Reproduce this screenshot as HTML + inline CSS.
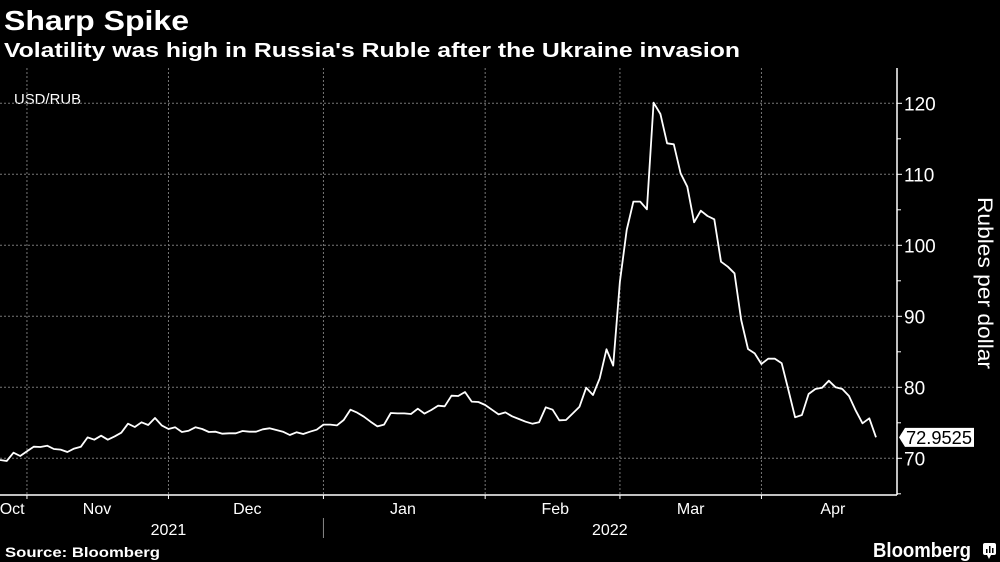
<!DOCTYPE html>
<html><head><meta charset="utf-8"><style>
html,body{margin:0;padding:0;background:#000;}
svg{display:block;font-family:"Liberation Sans","DejaVu Sans",sans-serif;}
</style></head><body>
<svg id="chart" width="1000" height="562" viewBox="0 0 1000 562">
<rect width="1000" height="562" fill="#000"/>
<text x="4" y="30" fill="#fff" font-size="28" font-weight="bold" textLength="185" lengthAdjust="spacingAndGlyphs">Sharp Spike</text>
<text x="4" y="57" fill="#fff" font-size="20" font-weight="bold" textLength="736" lengthAdjust="spacingAndGlyphs">Volatility was high in Russia's Ruble after the Ukraine invasion</text>
<text x="14" y="104" fill="#fff" font-size="15" textLength="67" lengthAdjust="spacingAndGlyphs">USD/RUB</text>
<g id="grid"></g>
<g id="axes"></g>
<g id="series"></g>
<text transform="translate(978,283) rotate(90)" text-anchor="middle" fill="#fff" font-size="21" textLength="172" lengthAdjust="spacingAndGlyphs">Rubles per dollar</text>
<text x="5" y="557" fill="#fff" font-size="14" font-weight="bold" textLength="155" lengthAdjust="spacingAndGlyphs">Source: Bloomberg</text>
<text x="873" y="557" fill="#fff" font-size="20" font-weight="bold" textLength="98" lengthAdjust="spacingAndGlyphs">Bloomberg</text>
<g><rect x="983" y="543" width="13" height="12" rx="2" fill="#fff"/><path d="M987 555 L989 559 L991 555Z" fill="#fff"/><rect x="986" y="549" width="1.5" height="4" fill="#000"/><rect x="989" y="546" width="1.5" height="7" fill="#000"/><rect x="992" y="548" width="1.5" height="5" fill="#000"/></g>
</svg>
<script>
const yTicks=[70,80,90,100,110,120];
const yMinorTicks=[65,75,85,95,105,115];
const monthLabels=["Oct","Nov","Dec","Jan","Feb","Mar","Apr"];
const monthLabelIdx=[1.8,14.4,36.7,59.8,82.4,102.5,123.6];
const monthStartIdx=[4,25,48,72,92,113];
const yearLabels=["2021","2022"];
const yearLabelIdx=[25,90.5];
const yearDividerIdx=48;
const values=[69.76,69.62,70.79,70.32,70.98,71.64,71.59,71.78,71.31,71.22,70.89,71.36,71.64,72.95,72.62,73.19,72.62,73.09,73.61,74.88,74.41,75.07,74.69,75.68,74.64,74.13,74.36,73.70,73.89,74.36,74.13,73.70,73.75,73.47,73.52,73.52,73.85,73.75,73.75,74.08,74.22,73.99,73.75,73.28,73.66,73.42,73.75,74.03,74.74,74.74,74.64,75.39,76.85,76.43,75.86,75.16,74.50,74.74,76.38,76.33,76.33,76.24,76.99,76.29,76.80,77.41,77.32,78.82,78.77,79.34,77.98,77.93,77.51,76.85,76.19,76.47,75.91,75.54,75.16,74.88,75.07,77.18,76.85,75.35,75.39,76.33,77.27,79.95,78.92,81.26,85.35,83.05,94.88,102.16,106.15,106.15,105.07,120.09,118.49,114.36,114.22,110.14,108.26,103.24,104.88,104.13,103.66,97.69,96.99,96.05,89.48,85.39,84.78,83.28,84.03,84.03,83.38,79.62,75.77,76.10,79.06,79.76,79.95,80.93,80.00,79.76,78.77,76.71,74.93,75.63,72.9525];
const lastLabel="72.9525";

const NS="http://www.w3.org/2000/svg";
const X0=0,X1=876,PR=897,PT=68,PB=495;
function xs(i){return X0+(X1-X0)*i/(values.length-1);}
function ys(v){return 458.3-(v-70)*7.1;}
function mk(tag,attrs,parent){const e=document.createElementNS(NS,tag);for(const k in attrs)e.setAttribute(k,attrs[k]);parent.appendChild(e);return e;}
const grid=document.getElementById('grid'),axes=document.getElementById('axes'),series=document.getElementById('series');
yTicks.forEach(v=>{
  const l=mk('line',{x1:0,x2:PR,y1:ys(v),y2:ys(v),stroke:'#777','stroke-width':1,'stroke-dasharray':'2,2'},grid);
  
  
  const t=mk('line',{x1:PR,x2:PR+5,y1:ys(v),y2:ys(v),stroke:'#fff','stroke-width':1},axes);
  
  
  const tx=mk('text',{x:PR+7,y:ys(v)+7,fill:'#fff','font-size':19},axes);
  tx.textContent=v;
  
  
});
yMinorTicks.forEach(v=>{
  const t=mk('line',{x1:PR,x2:PR+4,y1:ys(v),y2:ys(v),stroke:'#fff','stroke-width':1},axes);
  
  
});
monthStartIdx.forEach(i=>{
  const l=mk('line',{x1:xs(i),x2:xs(i),y1:PT,y2:PB,stroke:'#777','stroke-width':1,'stroke-dasharray':'2,2'},grid);
  
  
  const t=mk('line',{x1:xs(i),x2:xs(i),y1:PB,y2:PB+4,stroke:'#fff','stroke-width':1},axes);
  
  
});
const ax=mk('line',{x1:0,x2:PR,y1:PB,y2:PB,stroke:'#fff','stroke-width':1.5},axes);


const ay=mk('line',{x1:PR,x2:PR,y1:PT,y2:PB,stroke:'#fff','stroke-width':1.5},axes);


monthLabels.forEach((m,k)=>{
  const t=mk('text',{x:xs(monthLabelIdx[k]),y:514,fill:'#fff','font-size':16,'text-anchor':'middle'},axes);
  t.textContent=m;
  
  
});
yearLabels.forEach((m,k)=>{
  const t=mk('text',{x:xs(yearLabelIdx[k]),y:535,fill:'#fff','font-size':16,'text-anchor':'middle'},axes);
  t.textContent=m;
  
  
});
const yd=mk('line',{x1:xs(yearDividerIdx),x2:xs(yearDividerIdx),y1:518,y2:538,stroke:'#888','stroke-width':1},axes);


const pts=values.map((v,i)=>xs(i).toFixed(1)+','+ys(v).toFixed(1)).join(' ');
const pl=mk('polyline',{points:pts,fill:'none',stroke:'#fff','stroke-width':1.8,'stroke-linejoin':'round'},series);


const lv=values[values.length-1],ly=ys(lv);
const g=mk('g',{},series);


mk('path',{d:`M899 ${ly} L905 ${ly-9.5} L974 ${ly-9.5} L974 ${ly+9.5} L905 ${ly+9.5} Z`,fill:'#fff'},g);
const lt=mk('text',{x:906,y:ly+6.5,fill:'#000','font-size':18,textLength:66,lengthAdjust:'spacingAndGlyphs'},g);
lt.textContent=lastLabel;
</script>
</body></html>
